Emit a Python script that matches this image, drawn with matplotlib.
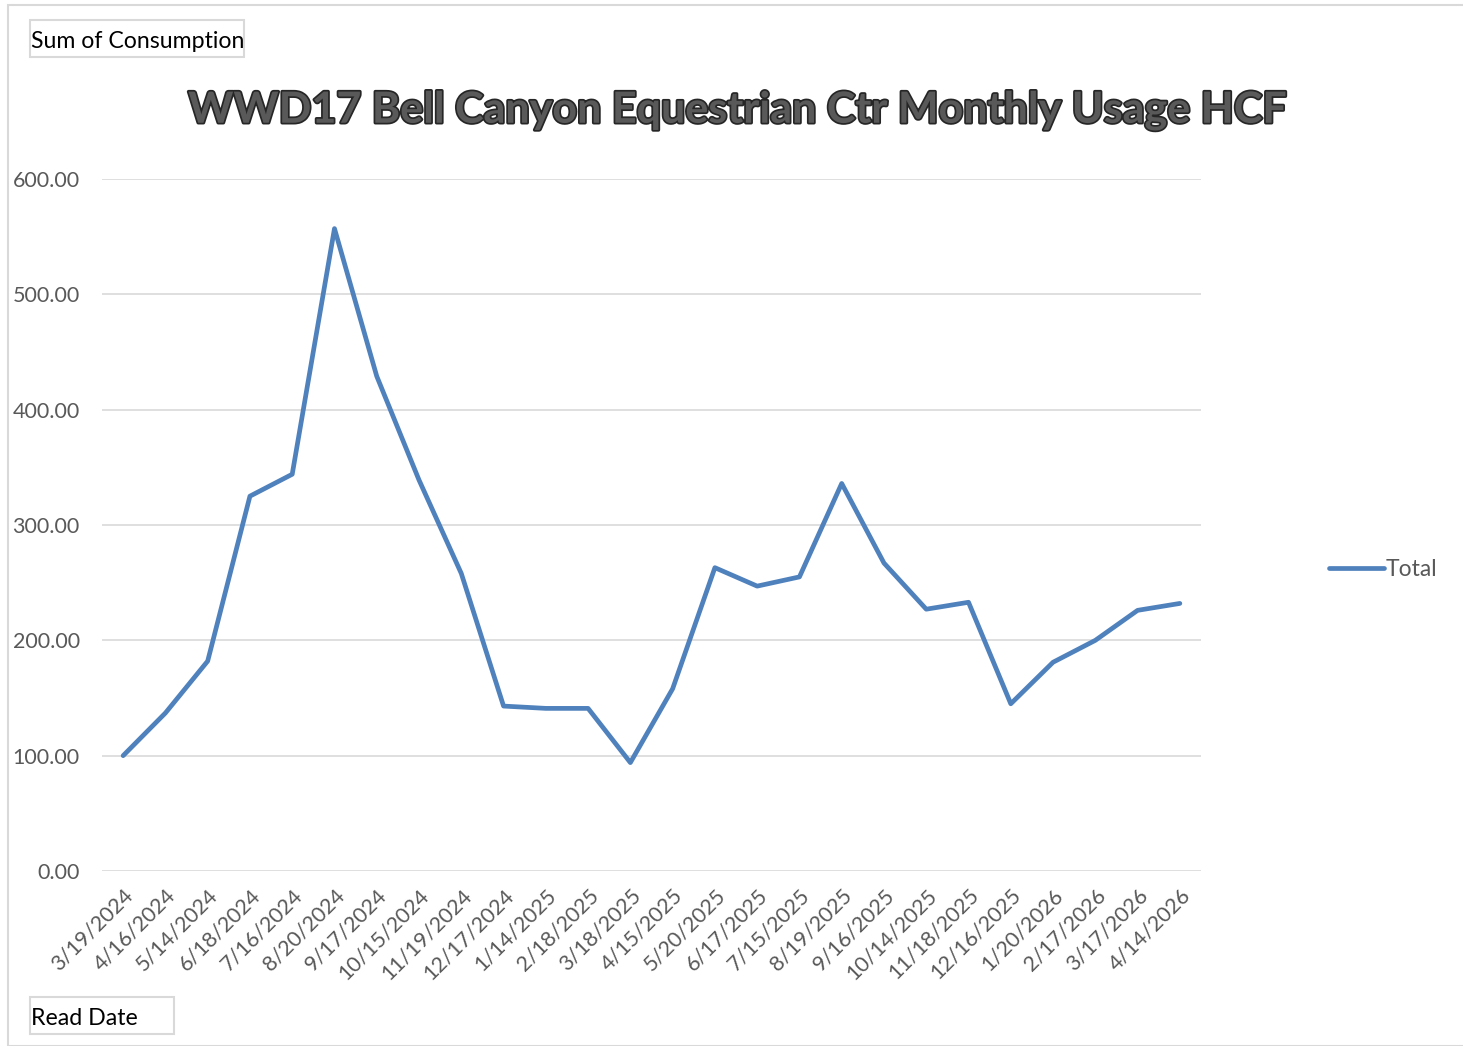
import matplotlib.pyplot as plt
import matplotlib.patheffects as pe
from matplotlib.patches import Rectangle

read_dates = ['3/19/2024', '4/16/2024', '5/14/2024', '6/18/2024', '7/16/2024', '8/20/2024',
              '9/17/2024', '10/15/2024', '11/19/2024', '12/17/2024', '1/14/2025', '2/18/2025',
              '3/18/2025', '4/15/2025', '5/20/2025', '6/17/2025', '7/15/2025', '8/19/2025',
              '9/16/2025', '10/14/2025', '11/18/2025', '12/16/2025', '1/20/2026', '2/17/2026',
              '3/17/2026', '4/14/2026']
consumption = [100, 137, 182, 325, 344, 557, 429, 339, 258, 143, 141, 141,
               94, 158, 263, 247, 255, 336, 267, 227, 233, 145, 181, 200, 226, 232]
y_ticks = [0, 100, 200, 300, 400, 500, 600]

plt.rcParams['font.family'] = ['Lato', 'DejaVu Sans']

fig = plt.figure(figsize=(14.63, 10.46), dpi=100)
W, H = 1463, 1046

# chart border
fig.patches.append(Rectangle((8 / W, 0), 1.2, 1 - 5 / H, transform=fig.transFigure,
                             fill=False, edgecolor='#D9D9D9', linewidth=1.5))

ax = fig.add_axes([102 / W, 1 - 871 / H, (1201 - 102) / W, (871 - 179) / H])
x = list(range(len(read_dates)))
line, = ax.plot(x, consumption, color='#4F81BD', linewidth=3.4, solid_joinstyle='round',
                solid_capstyle='round')
ax.set_xlim(-0.5, len(read_dates) - 0.5)
ax.set_ylim(0, 600)
ax.set_yticks(y_ticks)
ax.set_yticklabels([f'{v:.2f}' for v in y_ticks])
ax.set_xticks(x)
ax.set_xticklabels(read_dates, rotation=45, ha='right', rotation_mode='anchor')
ax.tick_params(axis='both', length=0, labelsize=15.5, colors='#595959')
ax.tick_params(axis='y', pad=16)
ax.tick_params(axis='x', pad=10)
ax.grid(axis='y', color='#D9D9D9', linewidth=1.2)
ax.set_axisbelow(True)
for s in ax.spines.values():
    s.set_visible(False)

fig.text(737 / W, 1 - 110 / H, 'WWD17 Bell Canyon Equestrian Ctr Monthly Usage HCF',
         ha='center', va='center', fontsize=31, fontweight='bold', color='#595959',
         path_effects=[pe.withStroke(linewidth=2.5, foreground='#262626')])

# legend
leg = fig.legend([line], ['Total'], loc='center left', bbox_to_anchor=(1308 / W, 1 - 570 / H),
                 frameon=False, fontsize=16.5, handlelength=2.4, handletextpad=0.1,
                 labelcolor='#595959')

# pivot field buttons
for label, (x0, y0, x1, y1) in [('Sum of Consumption', (30, 20, 244, 57)),
                                ('Read Date', (30, 997, 174, 1034))]:
    fig.patches.append(Rectangle((x0 / W, 1 - y1 / H), (x1 - x0) / W, (y1 - y0) / H,
                                 transform=fig.transFigure, fill=False,
                                 edgecolor='#D9D9D9', linewidth=1.5))
    fig.text((x0 + 1) / W, 1 - ((y0 + y1) / 2 + 3) / H, label, ha='left', va='center',
             fontsize=16.7, color='black')

fig.savefig('out.png', dpi=100)
